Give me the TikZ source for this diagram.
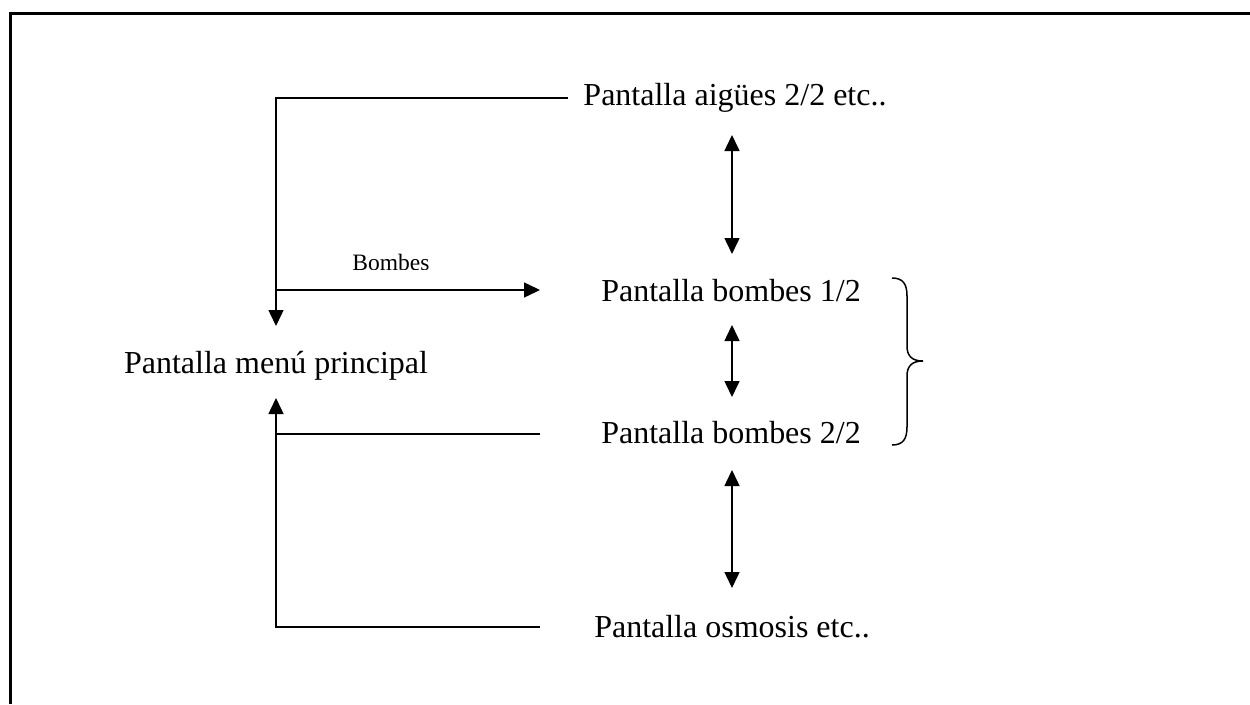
\documentclass[tikz,border=0pt]{standalone}
\usepackage{fontspec}
\setmainfont{Liberation Serif}
\usetikzlibrary{arrows.meta}
\begin{document}
\begin{tikzpicture}[x=1pt,y=-1pt,
  screen/.style={anchor=base,inner sep=0pt,font=\fontsize{32}{38}\selectfont},
  tag/.style={anchor=base,inner sep=0pt,font=\fontsize{23.5}{28}\selectfont},
  link/.style={line width=1.5pt},
  tip/.style={-{Triangle[length=16pt,width=15pt]}},
  twotip/.style={{Triangle[length=16pt,width=15pt]}-{Triangle[length=16pt,width=15pt]}}]
\useasboundingbox (0,0) rectangle (1250,704);
% frame (top and left edges)
\draw[line width=3pt] (10.5,704) -- (10.5,13) -- (1250,13);

% screens
\node[screen] (aig) at (735,105) {Pantalla aigües 2/2 etc..};
\node[screen] (bom1) at (731,301) {Pantalla bombes 1/2};
\node[screen] (menu) at (276,373) {Pantalla menú principal};
\node[screen] (bom2) at (731,443) {Pantalla bombes 2/2};
\node[screen] (osm) at (732,637) {Pantalla osmosis etc..};

% label of the pump link, clipped at its lower edge
\begin{scope}
  \clip (330,240) rectangle (460,269);
  \node[tag] (lbl) at (391,270.5) {Bombes};
\end{scope}

% connector end points
\coordinate (aigL) at (568,98);
\coordinate (menuT) at (276,326);
\coordinate (menuB) at (276,398);
\coordinate (bomA) at (276,290);
\coordinate (bomB) at (540,290);
\coordinate (bom2L) at (540,434);
\coordinate (osmL) at (540,627);
\coordinate (v1a) at (732,135);
\coordinate (v1b) at (732,254);
\coordinate (v2a) at (732,325);
\coordinate (v2b) at (732,397);
\coordinate (v3a) at (732,470);
\coordinate (v3b) at (732,588);

% links back to the main menu
\draw[link,tip] (aigL) -| (menuT);
\draw[link,tip] (bomA) -- (bomB);
\draw[link] (bom2L) -- (bom2L -| menuB);
\draw[link,tip] (osmL) -| (menuB);

% navigation between screens
\draw[link,twotip] (v1a) -- (v1b);
\draw[link,twotip] (v2a) -- (v2b);
\draw[link,twotip] (v3a) -- (v3b);

% brace grouping the two pump screens
\draw[line width=1.5pt] (892,278) .. controls (903,278) and (907,284) .. (907,296)
  -- (907,346) .. controls (907,356) and (912,361) .. (923,361)
  .. controls (912,361) and (907,366) .. (907,376)
  -- (907,427) .. controls (907,439) and (903,445) .. (892,445);
\end{tikzpicture}
\end{document}
